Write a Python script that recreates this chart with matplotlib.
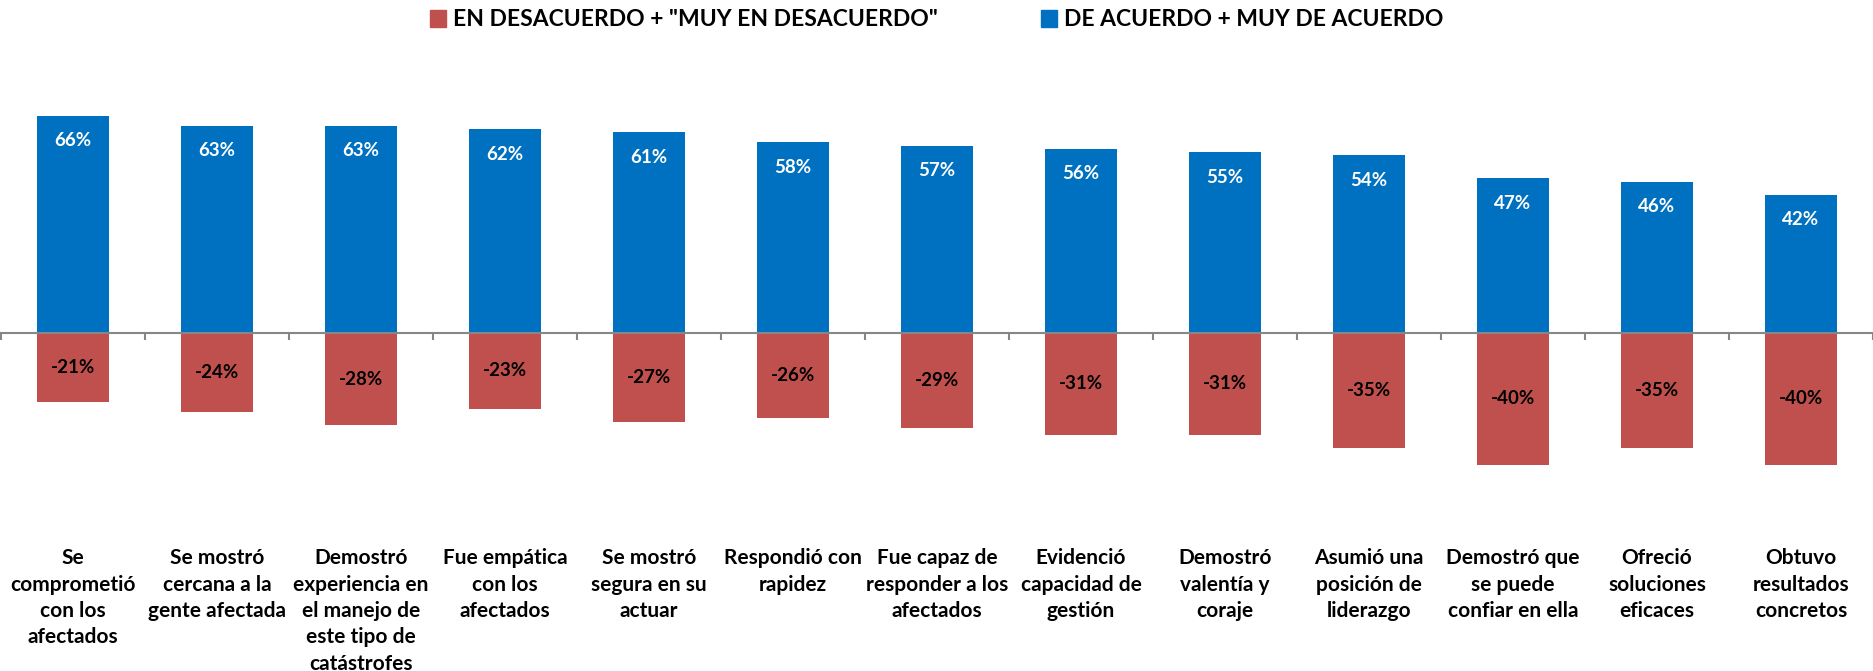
import matplotlib
matplotlib.use("Agg")
import matplotlib.pyplot as plt
from matplotlib.patches import Patch
import numpy as np

plt.rcParams['font.family'] = ['Lato', 'DejaVu Sans']
plt.rcParams['font.weight'] = 'bold'

categories = [
    "Se\ncomprometió\ncon los\nafectados",
    "Se mostró\ncercana a la\ngente afectada",
    "Demostró\nexperiencia en\nel manejo de\neste tipo de\ncatástrofes",
    "Fue empática\ncon los\nafectados",
    "Se mostró\nsegura en su\nactuar",
    "Respondió con\nrapidez",
    "Fue capaz de\nresponder a los\nafectados",
    "Evidenció\ncapacidad de\ngestión",
    "Demostró\nvalentía y\ncoraje",
    "Asumió una\nposición de\nliderazgo",
    "Demostró que\nse puede\nconfiar en ella",
    "Ofreció\nsoluciones\neficaces",
    "Obtuvo\nresultados\nconcretos",
]
acuerdo = [66, 63, 63, 62, 61, 58, 57, 56, 55, 54, 47, 46, 42]
desacuerdo = [-21, -24, -28, -23, -27, -26, -29, -31, -31, -35, -40, -35, -40]

legend_labels = ['EN DESACUERDO + "MUY EN DESACUERDO"', 'DE ACUERDO + MUY DE ACUERDO']

BLUE = '#0070C0'
RED = '#C0504D'
GRAY = '#868686'

W, H = 1873, 671
fig = plt.figure(figsize=(W / 100, H / 100), dpi=100)
ax_top_px, ax_bot_px = 60, 480
ax = fig.add_axes([0.0005, 1 - ax_bot_px / H, 0.9995, (ax_bot_px - ax_top_px) / H])

x = np.arange(len(categories))
ax.bar(x, acuerdo, width=0.5, color=BLUE, zorder=2)
ax.bar(x, desacuerdo, width=0.5, color=RED, zorder=2)

ax.set_xlim(-0.5, len(categories) - 0.5)
ax.set_ylim(-44.7, 83)

for xi, v in zip(x, acuerdo):
    ax.annotate(f"{v}%", (xi, v), xytext=(0, -18), textcoords='offset points',
                ha='center', va='center', color='white', fontsize=13.5, fontweight='bold')
for xi, v in zip(x, desacuerdo):
    ax.text(xi, v / 2, f"{v}%", ha='center', va='center', color='black',
            fontsize=13.5, fontweight='bold')

for s in ['top', 'right', 'left']:
    ax.spines[s].set_visible(False)
ax.spines['bottom'].set_position(('data', 0))
ax.spines['bottom'].set_color(GRAY)
ax.spines['bottom'].set_linewidth(1.5)
ax.spines['bottom'].set_zorder(3)
ax.set_yticks([])

ax.set_xticks(x)
ax.set_xticklabels(categories, fontsize=15, fontweight='bold', linespacing=1.4)
ax.set_xticks(np.arange(len(categories) + 1) - 0.5, minor=True)
ax.tick_params(axis='x', which='major', length=0, pad=155)
ax.tick_params(axis='x', which='minor', length=5, width=1.5, color=GRAY, direction='out')

handles = [Patch(color=RED), Patch(color=BLUE)]
fig.legend(handles, legend_labels, loc='center', bbox_to_anchor=(0.5, 1 - 20 / H),
           ncol=2, frameon=False, prop={'weight': 'bold', 'size': 16.5},
           handlelength=0.7, handleheight=0.7, handletextpad=0.3, columnspacing=4.5)

fig.savefig("out.png", dpi=100)
